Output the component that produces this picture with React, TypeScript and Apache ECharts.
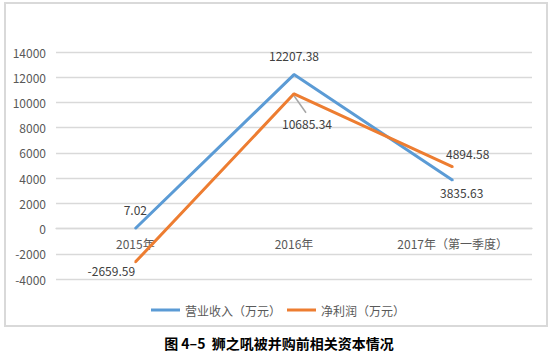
import React, { useEffect, useRef } from "react";
import * as echarts from "echarts";

const categories = ["2015年", "2016年", "2017年（第一季度）"];
const revenue = [7.02, 12207.38, 3835.63];
const profit = [-2659.59, 10685.34, 4894.58];
const seriesNames = ["营业收入（万元）", "净利润（万元）"];
const yMin = -4000;
const yMax = 14000;
const yInterval = 2000;

const revenueOffsets: [number, number][] = [[0, -19], [0, -19], [9, 12]];
const profitOffsets: [number, number][] = [[-24, 8], [13, 30], [15, -13]];

const FONT = "'Microsoft YaHei', 'Noto Sans CJK SC', sans-serif";
const GRID_TOP = 52;
const GRID_BOTTOM = 74;
const H = 353;

export default function App() {
  const ref = useRef<HTMLDivElement>(null);
  useEffect(() => {
    if (!ref.current) return;
    const chart = echarts.init(ref.current, undefined, { renderer: "svg" });
    const mk = (vals: number[], offs: [number, number][]) =>
      vals.map((v, i) => ({
        value: v,
        label: { offset: offs[i] },
      }));
    const gridH = H - GRID_TOP - GRID_BOTTOM;
    const zeroOffset = -((0 - yMin) / (yMax - yMin)) * gridH;
    const border = {
      type: "rect",
      shape: { x: 5, y: 3, width: 542, height: 323 },
      style: { fill: "none", stroke: "#d9d9d9", lineWidth: 2 },
      silent: true,
    };
    chart.setOption({
      animation: false,
      textStyle: { fontFamily: FONT },
      grid: { left: 56, right: 26, top: GRID_TOP, bottom: GRID_BOTTOM },
      legend: {
        left: 146,
        top: 299,
        itemWidth: 29,
        itemHeight: 3,
        itemGap: 6,
        icon: "rect",
        textStyle: { color: "#595959", fontSize: 12, fontFamily: FONT },
        data: seriesNames,
      },
      title: {
        text: "图 4–5  狮之吼被并购前相关资本情况",
        left: "center",
        top: 331,
        textStyle: { fontSize: 14, fontWeight: "bold", color: "#000", fontFamily: FONT },
      },
      xAxis: {
        type: "category",
        data: categories,
        boundaryGap: true,
        offset: zeroOffset,
        axisLine: { show: true, onZero: false, lineStyle: { color: "#d9d9d9", width: 1.3 } },
        axisTick: { show: false },
        axisLabel: { color: "#595959", fontSize: 12, margin: 9 },
      },
      yAxis: {
        type: "value",
        min: yMin,
        max: yMax,
        interval: yInterval,
        axisLine: { show: false },
        axisTick: { show: false },
        splitLine: { lineStyle: { color: "#d9d9d9", width: 1.3 } },
        axisLabel: { color: "#595959", fontSize: 12, margin: 10, formatter: (v: number) => String(v) },
      },
      series: [
        {
          name: seriesNames[0],
          type: "line",
          data: mk(revenue, revenueOffsets),
          symbol: "circle",
          symbolSize: 2,
          showSymbol: true,
          itemStyle: { color: "#5B9BD5" },
          lineStyle: { color: "#5B9BD5", width: 3 },
          label: { show: true, position: "inside", color: "#404040", fontSize: 12 },
          z: 3,
        },
        {
          name: seriesNames[1],
          type: "line",
          data: mk(profit, profitOffsets),
          symbol: "circle",
          symbolSize: 2,
          showSymbol: true,
          itemStyle: { color: "#ED7D31" },
          lineStyle: { color: "#ED7D31", width: 3 },
          label: { show: true, position: "inside", color: "#404040", fontSize: 12 },
          z: 4,
        },
      ],
      graphic: [border],
    });
    const p = chart.convertToPixel({ seriesIndex: 1 }, [1, profit[1]]) as number[];
    chart.setOption({
      graphic: [
        border,
        {
          type: "line",
          shape: { x1: p[0], y1: p[1] + 2, x2: p[0] + 12, y2: p[1] + 19 },
          style: { stroke: "#a6a6a6", lineWidth: 1.5 },
          silent: true,
          z: 2,
        },
      ],
    });
    return () => chart.dispose();
  }, []);
  return (
    <div
      ref={ref}
      style={{ position: "absolute", left: 0, top: 0, width: 558, height: 353, background: "#fff" }}
    />
  );
}
